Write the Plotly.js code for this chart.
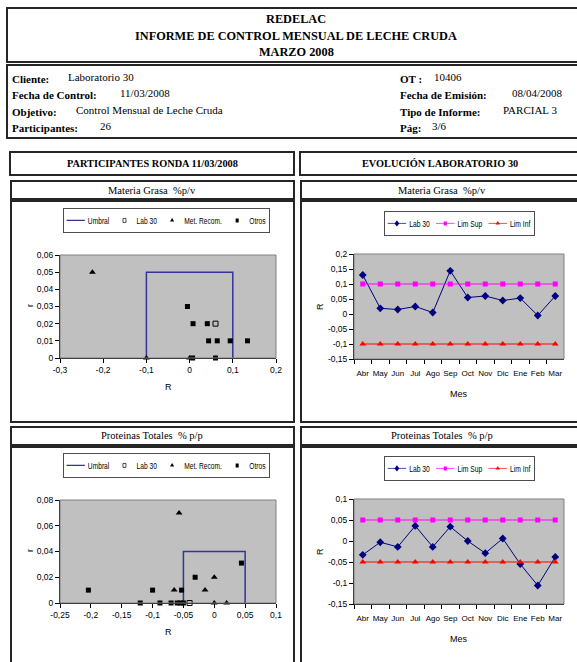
<!DOCTYPE html>
<html>
<head>
<meta charset="utf-8">
<script src="https://cdn.plot.ly/plotly-3.0.1.min.js"></script>
<style>
html,body{margin:0;padding:0;background:#fff;}
#chart{width:577px;height:662px;}
</style>
</head>
<body>
<div id="chart"></div>
<script>
// ---------- DATA ----------
// Materia Grasa - participantes (R vs r)
var grasaUmbralR = [-0.1, -0.1, 0.1, 0.1];
var grasaUmbralr = [0, 0.05, 0.05, 0];
var grasaLabR = [0.06];
var grasaLabr = [0.02];
var grasaMetR = [-0.225, -0.1, 0];
var grasaMetr = [0.05, 0, 0];
var grasaOtrosR = [-0.005, 0.008, 0.041, 0.044, 0.064, 0.094, 0.134, 0.007, 0.06];
var grasaOtrosr = [0.03, 0.02, 0.02, 0.01, 0.01, 0.01, 0.01, 0, 0];

// Proteinas Totales - participantes (R vs r)
var protUmbralR = [-0.05, -0.05, 0.05, 0.05];
var protUmbralr = [0, 0.04, 0.04, 0];
var protLabR = [-0.04];
var protLabr = [0];
var protMetR = [-0.057, -0.065, -0.015, 0, 0, 0.02];
var protMetr = [0.07, 0.01, 0.01, 0.02, 0, 0];
var protOtrosR = [-0.204, -0.1, -0.053, -0.031, 0.044, -0.12, -0.088, -0.07, -0.06, -0.055, -0.05];
var protOtrosr = [0.01, 0.01, 0.01, 0.02, 0.031, 0, 0, 0, 0, 0, 0];

// Evolución Laboratorio 30
var meses = ['Abr','May','Jun','Jul','Ago','Sep','Oct','Nov','Dic','Ene','Feb','Mar'];
var grasaLab30 = [0.13, 0.019, 0.015, 0.025, 0.005, 0.144, 0.055, 0.06, 0.045, 0.053, -0.005, 0.06];
var grasaLimSup = [0.1, 0.1, 0.1, 0.1, 0.1, 0.1, 0.1, 0.1, 0.1, 0.1, 0.1, 0.1];
var grasaLimInf = [-0.1, -0.1, -0.1, -0.1, -0.1, -0.1, -0.1, -0.1, -0.1, -0.1, -0.1, -0.1];
var protLab30 = [-0.033, -0.003, -0.014, 0.036, -0.014, 0.034, 0, -0.029, 0.006, -0.055, -0.106, -0.038];
var protLimSup = [0.05, 0.05, 0.05, 0.05, 0.05, 0.05, 0.05, 0.05, 0.05, 0.05, 0.05, 0.05];
var protLimInf = [-0.05, -0.05, -0.05, -0.05, -0.05, -0.05, -0.05, -0.05, -0.05, -0.05, -0.05, -0.05];

// Tick labels
var grasaRTicks = [-0.3, -0.2, -0.1, 0, 0.1, 0.2];
var grasaRLabels = ['-0,3', '-0,2', '-0,1', '0', '0,1', '0,2'];
var grasarTicks = [0, 0.01, 0.02, 0.03, 0.04, 0.05, 0.06];
var grasarLabels = ['0', '0,01', '0,02', '0,03', '0,04', '0,05', '0,06'];
var protRTicks = [-0.25, -0.2, -0.15, -0.1, -0.05, 0, 0.05, 0.1];
var protRLabels = ['-0,25', '-0,2', '-0,15', '-0,1', '-0,05', '0', '0,05', '0,1'];
var protrTicks = [0, 0.02, 0.04, 0.06, 0.08];
var protrLabels = ['0', '0,02', '0,04', '0,06', '0,08'];
var evoGrasaTicks = [-0.15, -0.1, -0.05, 0, 0.05, 0.1, 0.15, 0.2];
var evoGrasaLabels = ['-0,15', '-0,1', '-0,05', '0', '0,05', '0,1', '0,15', '0,2'];
var evoProtTicks = [-0.15, -0.1, -0.05, 0, 0.05, 0.1];
var evoProtLabels = ['-0,15', '-0,1', '-0,05', '0', '0,05', '0,1'];

// Document texts
var tituloLineas = ['REDELAC', 'INFORME DE CONTROL MENSUAL DE LECHE CRUDA', 'MARZO 2008'];
var infoEtiquetasIzq = ['Cliente:', 'Fecha de Control:', 'Objetivo:', 'Participantes:'];
var infoValoresIzq = ['Laboratorio 30', '11/03/2008', 'Control Mensual de Leche Cruda', '26'];
var infoEtiquetasDer = ['OT :', 'Fecha de Emisión:', 'Tipo de Informe:', 'Pág:'];
var infoValoresDer = ['10406', '08/04/2008', 'PARCIAL 3', '3/6'];

// ---------- LAYOUT HELPERS ----------
var W = 577, H = 662;
function px(x) { return x / W; }
function py(y) { return 1 - y / H; }

var serif = 'Liberation Serif, Times New Roman, serif';
var sans = 'Liberation Sans, Arial, sans-serif';
var navy = '#000080';
var umbralColor = '#333399';

var traces = [];
function scatterSet(xa, ya, lg, uR, ur, lR, lr, mR, mr, oR, or) {
  traces.push({x: uR, y: ur, xaxis: xa, yaxis: ya, legend: lg, name: 'Umbral', mode: 'lines',
    line: {color: umbralColor, width: 1.5}, cliponaxis: false});
  traces.push({x: lR, y: lr, xaxis: xa, yaxis: ya, legend: lg, name: 'Lab 30', mode: 'markers',
    marker: {symbol: 'square-open', size: 5, color: '#000', line: {color: '#000', width: 1}}, cliponaxis: false});
  traces.push({x: mR, y: mr, xaxis: xa, yaxis: ya, legend: lg, name: 'Met. Recom.', mode: 'markers',
    marker: {symbol: 'triangle-up', size: 6, color: '#000'}, cliponaxis: false});
  traces.push({x: oR, y: or, xaxis: xa, yaxis: ya, legend: lg, name: 'Otros', mode: 'markers',
    marker: {symbol: 'square', size: 5, color: '#000'}, cliponaxis: false});
}
function evoSet(xa, ya, lg, lab, sup, inf) {
  traces.push({x: meses, y: lab, xaxis: xa, yaxis: ya, legend: lg, name: 'Lab 30', mode: 'lines+markers',
    line: {color: navy, width: 1}, marker: {symbol: 'diamond', size: 6, color: navy}, cliponaxis: false});
  traces.push({x: meses, y: sup, xaxis: xa, yaxis: ya, legend: lg, name: 'Lim Sup', mode: 'lines+markers',
    line: {color: '#FF00FF', width: 1}, marker: {symbol: 'square', size: 5, color: '#FF00FF'}, cliponaxis: false});
  traces.push({x: meses, y: inf, xaxis: xa, yaxis: ya, legend: lg, name: 'Lim Inf', mode: 'lines+markers',
    line: {color: '#FF0000', width: 1}, marker: {symbol: 'triangle-up', size: 6, color: '#FF0000'}, cliponaxis: false});
}
scatterSet('x', 'y', 'legend', grasaUmbralR, grasaUmbralr, grasaLabR, grasaLabr, grasaMetR, grasaMetr, grasaOtrosR, grasaOtrosr);
evoSet('x2', 'y2', 'legend2', grasaLab30, grasaLimSup, grasaLimInf);
scatterSet('x3', 'y3', 'legend3', protUmbralR, protUmbralr, protLabR, protLabr, protMetR, protMetr, protOtrosR, protOtrosr);
evoSet('x4', 'y4', 'legend4', protLab30, protLimSup, protLimInf);

function axisBase(extra) {
  var a = {showgrid: false, zeroline: false, showline: true, linecolor: '#000', linewidth: 1,
    ticks: 'outside', ticklen: 4, tickcolor: '#000', tickwidth: 1, tickangle: 0,
    tickfont: {family: sans, size: 8.5, color: '#000'}, fixedrange: true};
  for (var k in extra) a[k] = extra[k];
  return a;
}
// legends are laid out centred on the page first (so they never push margins),
// then moved/compacted into their Excel-style boxes after drawing
function legendBox(topY) {
  return {orientation: 'h', x: 0.5, y: py(topY), xanchor: 'center', yanchor: 'top',
    bgcolor: '#fff', bordercolor: '#000', borderwidth: 1, itemwidth: 30,
    font: {family: sans, size: 11, color: '#000'}, traceorder: 'normal', tracegroupgap: 0};
}

var shapes = [];
function box(x0, y0, x1, y1, w) {
  shapes.push({type: 'rect', xref: 'paper', yref: 'paper', x0: px(x0), x1: px(x1), y0: py(y1), y1: py(y0),
    line: {color: '#262626', width: w || 2}, fillcolor: 'rgba(0,0,0,0)'});
}
box(7, 8, 592, 62);
box(7, 65, 592, 138);
box(10, 152, 294, 175);
box(300, 152, 592, 175);
box(11, 181, 294, 199);
box(301, 181, 592, 199);
box(11, 201, 294, 422);
box(301, 201, 592, 422);
box(11, 427, 294, 445);
box(301, 427, 592, 445);
box(11, 447, 294, 680);
box(301, 447, 592, 680);
// gray plot-area frames
['', '2', '3', '4'].forEach(function (s) {
  shapes.push({type: 'rect', xref: 'x' + s + ' domain', yref: 'y' + s + ' domain', x0: 0, x1: 1, y0: 0, y1: 1,
    line: {color: '#808080', width: 1}, layer: 'above'});
});

var ann = [];
function txt(t, x, y, opts) {
  var a = {text: t, x: px(x), y: py(y), xref: 'paper', yref: 'paper', showarrow: false,
    xanchor: 'left', yanchor: 'middle', font: {family: serif, size: 11, color: '#000'}};
  for (var k in opts) a[k] = opts[k];
  ann.push(a);
}
var tituloY = [19.5, 36, 52];
tituloLineas.forEach(function (t, i) {
  txt('<b>' + t + '</b>', 296, tituloY[i], {xanchor: 'center', font: {family: serif, size: 12.3, color: '#000'}});
});
var infoY = [79, 95, 112, 128];
var valIzqX = [66, 118, 74, 98];
var valDerX = [432, 510, 501, 430];
infoEtiquetasIzq.forEach(function (t, i) { txt('<b>' + t + '</b>', 10, infoY[i]); });
infoValoresIzq.forEach(function (t, i) { txt(t, valIzqX[i], infoY[i] - 2); });
infoEtiquetasDer.forEach(function (t, i) { txt('<b>' + t + '</b>', 398, infoY[i]); });
infoValoresDer.forEach(function (t, i) { txt(t, valDerX[i], infoY[i] - 2); });

txt('<b>PARTICIPANTES RONDA 11/03/2008</b>', 152, 164, {xanchor: 'center', font: {family: serif, size: 10.3, color: '#000'}});
txt('<b>EVOLUCIÓN LABORATORIO 30</b>', 440, 164, {xanchor: 'center', font: {family: serif, size: 10.3, color: '#000'}});
txt('Materia Grasa  %p/v', 152, 190.5, {xanchor: 'center', font: {family: serif, size: 10.5, color: '#000'}});
txt('Materia Grasa  %p/v', 442, 190.5, {xanchor: 'center', font: {family: serif, size: 10.5, color: '#000'}});
txt('Proteinas Totales  % p/p', 152, 436, {xanchor: 'center', font: {family: serif, size: 10.5, color: '#000'}});
txt('Proteinas Totales  % p/p', 442, 436, {xanchor: 'center', font: {family: serif, size: 10.5, color: '#000'}});

// axis titles
var tf = {family: sans, size: 9, color: '#000'};
txt('r', 30, 306, {xanchor: 'center', textangle: -90, font: tf});
txt('R', 168, 387, {xanchor: 'center', font: tf});
txt('R', 320, 307, {xanchor: 'center', textangle: -90, font: tf});
txt('Mes', 459, 394, {xanchor: 'center', font: tf});
txt('r', 30, 551, {xanchor: 'center', textangle: -90, font: tf});
txt('R', 168, 632, {xanchor: 'center', font: tf});
txt('R', 320, 552, {xanchor: 'center', textangle: -90, font: tf});
txt('Mes', 459, 639, {xanchor: 'center', font: tf});

var monthFont = {family: sans, size: 8, color: '#000'};
var layout = {
  width: W, height: H, margin: {l: 0, r: 0, t: 0, b: 0},
  paper_bgcolor: '#fff', plot_bgcolor: '#C0C0C0', showlegend: true,
  xaxis: axisBase({domain: [px(60), px(276)], range: [-0.3, 0.2], tickvals: grasaRTicks, ticktext: grasaRLabels, anchor: 'y'}),
  yaxis: axisBase({domain: [py(358), py(255)], range: [0, 0.06], tickvals: grasarTicks, ticktext: grasarLabels, anchor: 'x'}),
  xaxis2: axisBase({domain: [px(354), px(564)], type: 'category', tickson: 'boundaries', range: [-0.5, 11.5], anchor: 'y2', tickfont: monthFont, ticklabelstandoff: 6}),
  yaxis2: axisBase({domain: [py(359), py(254)], range: [-0.15, 0.2], tickvals: evoGrasaTicks, ticktext: evoGrasaLabels, anchor: 'x2'}),
  xaxis3: axisBase({domain: [px(60), px(276)], range: [-0.25, 0.1], tickvals: protRTicks, ticktext: protRLabels, anchor: 'y3'}),
  yaxis3: axisBase({domain: [py(603), py(500)], range: [0, 0.08], tickvals: protrTicks, ticktext: protrLabels, anchor: 'x3'}),
  xaxis4: axisBase({domain: [px(354), px(564)], type: 'category', tickson: 'boundaries', range: [-0.5, 11.5], anchor: 'y4', tickfont: monthFont, ticklabelstandoff: 6}),
  yaxis4: axisBase({domain: [py(604), py(499)], range: [-0.15, 0.1], tickvals: evoProtTicks, ticktext: evoProtLabels, anchor: 'x4'}),
  legend: legendBox(208),
  legend2: legendBox(211),
  legend3: legendBox(453),
  legend4: legendBox(456),
  shapes: shapes,
  annotations: ann
};

// compact Excel-style legend boxes: [centerX, topY, width]
var legendTargets = {legend: [166, 208, 206], legend2: [459, 211, 150], legend3: [166, 453, 206], legend4: [459, 456, 150]};
var legendScaleY = 0.8;

Plotly.newPlot('chart', traces, layout, {displayModeBar: false, staticPlot: true}).then(function (gd) {
  Object.keys(legendTargets).forEach(function (id) {
    var g = gd.querySelector('g.' + id);
    if (!g) return;
    var bg = g.querySelector('rect.bg');
    if (!bg) return;
    var bw = parseFloat(bg.getAttribute('width'));
    if (!bw) return;
    var t = legendTargets[id];
    var sx = t[2] / bw;
    g.setAttribute('transform', 'translate(' + (t[0] - t[2] / 2) + ',' + t[1] + ') scale(' + sx + ',' + legendScaleY + ')');
  });
});
</script>
</body>
</html>
